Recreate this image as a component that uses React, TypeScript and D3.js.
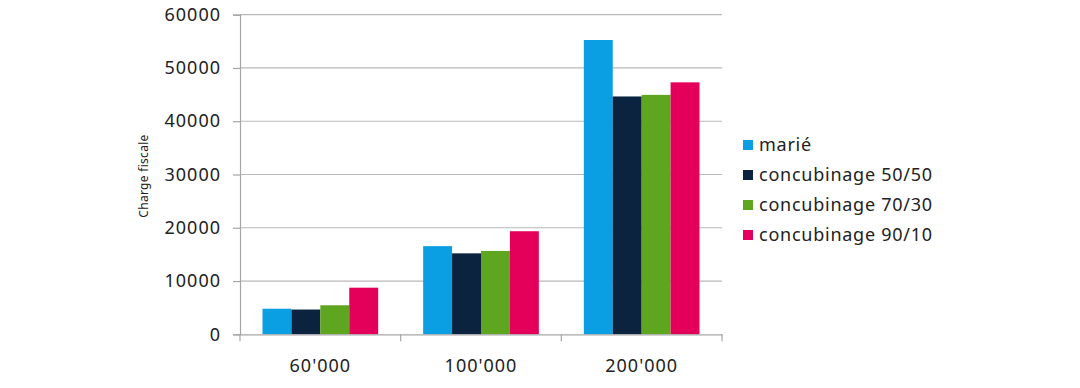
import * as d3 from 'd3';
import React, { useRef, useEffect } from 'react';

const categories = ["60'000", "100'000", "200'000"];
const seriesNames = ['marié', 'concubinage 50/50', 'concubinage 70/30', 'concubinage 90/10'];
const marie = [4800, 16550, 55250];
const concubinage5050 = [4650, 15200, 44650];
const concubinage7030 = [5450, 15650, 44950];
const concubinage9010 = [8750, 19350, 47300];
const yTicks = [0, 10000, 20000, 30000, 40000, 50000, 60000];
const colors = ['#0a9ee2', '#0c2340', '#5ea61f', '#e4005a'];

const FONT = '"Noto Sans", sans-serif';

function App() {
  const ref = useRef(null);

  useEffect(() => {
    const width = 1080;
    const height = 388;
    const left = 240;
    const right = 722;
    const top = 14.7;
    const bottom = 334.3;

    const values = [marie, concubinage5050, concubinage7030, concubinage9010];

    const svg = d3.select(ref.current);
    svg.selectAll('*').remove();
    svg.attr('width', width).attr('height', height);

    const x = d3.scaleBand()
      .domain(categories)
      .range([left, right])
      .paddingInner(0.28)
      .paddingOuter(0.14);

    const xs = d3.scaleBand()
      .domain(seriesNames)
      .range([0, x.bandwidth()]);

    const y = d3.scaleLinear()
      .domain([0, 60000])
      .range([bottom, top]);

    // gridlines
    svg.append('g')
      .selectAll('line')
      .data(yTicks.slice(1))
      .enter()
      .append('line')
      .attr('x1', left)
      .attr('x2', right)
      .attr('y1', d => y(d))
      .attr('y2', d => y(d))
      .attr('stroke', '#b8b8b8')
      .attr('stroke-width', 1.2);

    // bars
    seriesNames.forEach((s, i) => {
      svg.append('g')
        .selectAll('rect')
        .data(values[i])
        .enter()
        .append('rect')
        .attr('x', (d, j) => (x(categories[j]) as number) + (xs(s) as number))
        .attr('y', d => y(d))
        .attr('width', xs.bandwidth())
        .attr('height', d => bottom - y(d))
        .attr('fill', colors[i]);
    });

    // y axis
    const yAxis = svg.append('g')
      .attr('transform', `translate(${left},0)`)
      .call(d3.axisLeft(y).tickValues(yTicks).tickSize(7).tickPadding(12).tickFormat(d3.format('d')));
    yAxis.select('.domain').attr('stroke', '#a6a6a6').attr('stroke-width', 1.2);
    yAxis.selectAll('.tick line').attr('stroke', '#a6a6a6').attr('stroke-width', 1.2);
    yAxis.selectAll('.tick text')
      .attr('fill', '#222')
      .style('font-family', FONT)
      .style('font-size', '18px')
      .style('letter-spacing', '1px');

    // x axis
    const xAxis = svg.append('g')
      .attr('transform', `translate(0,${bottom})`)
      .call(d3.axisBottom(x).tickSize(0).tickPadding(25));
    xAxis.select('.domain').attr('stroke', '#a6a6a6').attr('stroke-width', 1.2);
    xAxis.selectAll('.tick text')
      .attr('fill', '#222')
      .style('font-family', FONT)
      .style('font-size', '18px')
      .style('letter-spacing', '1px');

    // category separators
    const step = x.step();
    const edges = [left, ...categories.map(c => (x(c) as number) - x.paddingInner() * step / 2 + step)];
    svg.append('g')
      .selectAll('line')
      .data(edges)
      .enter()
      .append('line')
      .attr('x1', d => d)
      .attr('x2', d => d)
      .attr('y1', bottom)
      .attr('y2', bottom + 7)
      .attr('stroke', '#a6a6a6')
      .attr('stroke-width', 1.2);

    // y axis title
    svg.append('text')
      .attr('transform', `translate(148,176) rotate(-90)`)
      .attr('text-anchor', 'middle')
      .style('font-family', FONT)
      .style('font-size', '12px')
      .style('letter-spacing', '0.3px')
      .attr('fill', '#222')
      .text('Charge fiscale');

    // legend
    const legend = svg.append('g').attr('transform', 'translate(743,145)');
    seriesNames.forEach((s, i) => {
      const row = legend.append('g').attr('transform', `translate(0,${i * 30})`);
      row.append('rect')
        .attr('x', 0)
        .attr('y', -5)
        .attr('width', 10)
        .attr('height', 10)
        .attr('fill', colors[i]);
      row.append('text')
        .attr('x', 16)
        .attr('y', 0)
        .attr('dy', '0.35em')
        .style('font-family', FONT)
        .style('font-size', '18px')
        .style('letter-spacing', '0.75px')
        .attr('fill', '#222')
        .text(s);
    });
  }, []);

  return (
    <svg ref={ref} style={{ position: 'absolute', left: 0, top: 0 }}></svg>
  );
}

export default App;
